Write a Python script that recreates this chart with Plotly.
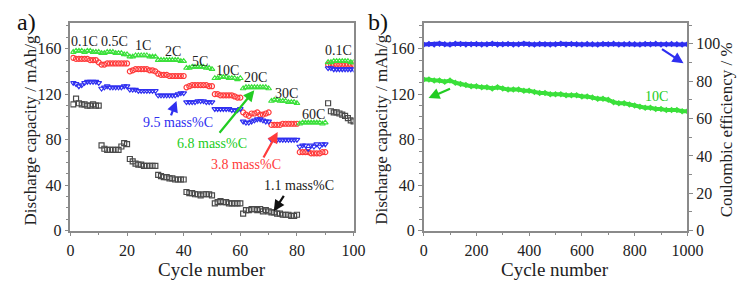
import plotly.graph_objects as go

# ---------------- data: panel a (rate capability) ----------------
cycles = list(range(1, 101))
cap_6_8 = [157,158,158,158,157,158,158,157,157,157,
           156,156,157,157,157,156,156,156,155,155,
           153,153,154,154,154,154,154,153,153,153,
           150,150,150,150,150,150,150,150,149,149,
           143,143,144,144,144,144,144,143,143,142,
           134,134,135,135,135,134,134,134,133,134,
           125,126,126,126,126,126,126,126,126,125,
           114,115,115,114,114,114,113,113,113,112,
           94,95,95,95,95,95,95,95,94,95,
           148,148,149,149,149,149,149,149,148,148]
cap_3_8 = [152,151,151,151,151,151,150,150,150,148,
           146,146,147,147,147,147,147,147,147,147,
           140,141,142,142,142,142,142,141,141,140,
           138,137,137,137,136,136,136,136,136,136,
           126,127,128,128,128,128,128,128,127,127,
           120,120,119,119,119,119,119,118,117,117,
           104,102,101,103,103,104,102,102,103,104,
           93,93,93,93,94,94,94,94,94,94,
           69,69,69,69,68,68,68,68,69,69,
           146,146,146,146,146,146,146,146,146,146]
cap_9_5 = [130,129,127,128,130,131,131,131,131,130,
           125,126,127,126,126,126,126,126,127,127,
           124,124,124,123,123,123,123,123,123,123,
           119,119,119,119,119,119,119,120,121,121,
           113,113,113,113,114,114,114,113,113,113,
           107,107,107,107,107,107,106,106,106,107,
           96,95,95,96,97,98,98,97,96,96,
           80,80,80,80,80,80,80,80,80,80,
           74,75,75,72,75,74,76,74,76,76,
           143,143,142,142,142,142,142,142,142,142]
cap_1_1 = [111,116,112,111,111,110,110,111,110,110,
           75,72,71,71,71,71,71,74,77,76,
           63,61,59,58,58,57,57,57,57,57,
           49,48,47,47,46,46,45,45,45,45,
           34,33,33,32,32,31,32,32,32,31,
           24,25,26,25,25,24,24,24,24,24,
           15,18,18,19,19,18,19,17,18,17,
           16,16,15,15,14,14,14,13,13,14,
           None,None,None,None,None,None,None,None,None,None,
           112,105,104,104,103,102,101,99,97,96]
rate_labels = ["0.1C", "0.5C", "1C", "2C", "5C", "10C", "20C", "30C", "60C", "0.1C"]

# ---------------- data: panel b (long cycling at 10C) ----------------
long_cycles = list(range(0, 1001, 20))
cap_10C = [133,133,132,132,131,132,130,129,128,127,
           127,126,126,125,126,125,124,124,124,123,
           123,122,121,121,120,120,120,119,119,119,
           118,118,117,116,116,115,113,112,112,111,
           110,109,108,108,107,107,106,106,106,105,
           105]
ce_10C = [99.6,99.9,99.7,100.1,99.8,99.6,100.0,99.9,99.7,99.8,
          99.9,99.6,99.8,100.0,99.7,99.8,99.9,99.7,99.8,100.1,
          99.8,99.7,99.9,99.8,99.6,99.8,100.0,99.7,99.9,99.8,
          99.7,99.9,99.8,99.6,99.9,99.8,100.0,99.7,99.8,99.9,
          99.8,99.7,99.9,99.8,100.1,99.7,99.8,99.9,99.8,99.7,
          99.8]

GREEN = "#3ae03a"
RED = "#ff3b3b"
BLUE = "#2f2ff0"
BLACK = "#4a4a4a"
FONT = "Times New Roman, Liberation Serif, serif"
W, H = 746, 282

fig = go.Figure()

def mk(sym, col):
    return dict(symbol=sym, size=5, color=col, line=dict(width=1.2, color=col))

fig.add_trace(go.Scatter(x=cycles, y=cap_1_1, mode="markers", marker=mk("square-open", BLACK),
                         xaxis="x", yaxis="y"))
fig.add_trace(go.Scatter(x=cycles, y=cap_3_8, mode="markers", marker=mk("circle-open", RED),
                         xaxis="x", yaxis="y"))
fig.add_trace(go.Scatter(x=cycles, y=cap_9_5, mode="markers", marker=mk("triangle-down-open", BLUE),
                         xaxis="x", yaxis="y"))
fig.add_trace(go.Scatter(x=cycles, y=cap_6_8, mode="markers", marker=mk("triangle-up-open", GREEN),
                         xaxis="x", yaxis="y"))

fig.add_trace(go.Scatter(x=long_cycles, y=cap_10C, mode="lines+markers",
                         line=dict(color=GREEN, width=4),
                         marker=dict(symbol="diamond", size=5, color=GREEN),
                         xaxis="x2", yaxis="y2"))
fig.add_trace(go.Scatter(x=long_cycles, y=ce_10C, mode="lines+markers",
                         line=dict(color=BLUE, width=4),
                         marker=dict(symbol="diamond", size=5, color=BLUE),
                         xaxis="x2", yaxis="y3"))

AX = "#8a8a8a"
tickfont = dict(family=FONT, size=16, color="#222")
common = dict(showline=True, linecolor=AX, linewidth=1.5, ticks="outside", ticklen=4,
              tickcolor=AX, tickwidth=1.2, showgrid=False, zeroline=False, tickfont=tickfont)

dom_a = [60 / W, 351 / W]
dom_b = [423 / W, 694 / W]
dom_y = [(H - 230) / H, (H - 15) / H]

fig.update_layout(
    width=W, height=H, margin=dict(l=0, r=0, t=0, b=0),
    paper_bgcolor="white", plot_bgcolor="white", showlegend=False,
    font=dict(family=FONT),
    xaxis=dict(domain=dom_a, range=[0, 100], dtick=20, anchor="y", mirror=True,
               minor=dict(dtick=10, ticklen=3, ticks="outside", tickcolor=AX), **common),
    yaxis=dict(domain=dom_y, range=[0, 183], dtick=40, anchor="x", mirror=True,
               minor=dict(dtick=10, ticklen=3, ticks="outside", tickcolor=AX), **common),
    xaxis2=dict(domain=dom_b, range=[0, 1000], dtick=200, anchor="y2", mirror=True,
                minor=dict(dtick=100, ticklen=3, ticks="outside", tickcolor=AX), **common),
    yaxis2=dict(domain=dom_y, range=[0, 183], dtick=40, anchor="x2",
                minor=dict(dtick=10, ticklen=3, ticks="outside", tickcolor=AX), **common),
    yaxis3=dict(range=[0, 111.4], dtick=20, anchor="x2", overlaying="y2", side="right",
                minor=dict(dtick=10, ticklen=3, ticks="outside", tickcolor=AX), **common),
)

def P(px, py):
    return px / W, 1 - py / H

anns = []
def text(px, py, s, size=13, color="#222", angle=0, yanchor="middle"):
    x, y = P(px, py)
    anns.append(dict(x=x, y=y, xref="paper", yref="paper", text=s, showarrow=False,
                     font=dict(family=FONT, size=size, color=color), textangle=angle,
                     xanchor="center", yanchor=yanchor, borderpad=0))

def arrow(tx, ty, hx, hy, color):
    x, y = P(hx, hy)
    anns.append(dict(x=x, y=y, xref="paper", yref="paper", text="", showarrow=True,
                     ax=tx - hx, ay=ty - hy, arrowcolor=color, arrowwidth=2.2,
                     arrowhead=2, arrowsize=1.0))

# rate labels (panel a)
rate_pos = [(75, 35), (105, 35), (135, 39), (165, 45), (193, 55), (221, 65),
            (250, 72), (282, 88), (310, 110), (336, 44)]
for (px, py), s in zip(rate_pos, rate_labels):
    text(px, py, s, size=14)

text(171, 118, "9.5 mass%C", 14, BLUE)
arrow(163, 112, 169, 96, BLUE)
text(206, 140, "6.8 mass%C", 14, "#22cc22")
arrow(213, 129, 249, 85, "#22cc22")
text(240, 162, "3.8 mass%C", 14, RED)
arrow(258, 155, 273, 128, RED)
text(295, 183, "1.1 mass%C", 14, "#222")
arrow(280, 193, 269, 210, "#111")

# panel b labels
text(662, 91, "10C", 14, "#22cc22")
arrow(451, 83, 428, 93, "#22cc22")
arrow(667, 42, 690, 57, BLUE)

# panel letters
text(15, 14, "a)", 24, "#111")
text(376, 14, "b)", 24, "#111")

# axis titles
text(20, 126, "Discharge capacity / mAh/g", 17, "#222", -90)
text(380, 126, "Discharge capacity / mAh/g", 17, "#222", -90)
text(735, 126, "Coulombic efficiency / %", 17, "#222", -90)
text(206, 282, "Cycle number", 19, "#222", yanchor="bottom")
text(558, 282, "Cycle number", 19, "#222", yanchor="bottom")

fig.update_layout(annotations=anns)
fig.write_html("out.html")
